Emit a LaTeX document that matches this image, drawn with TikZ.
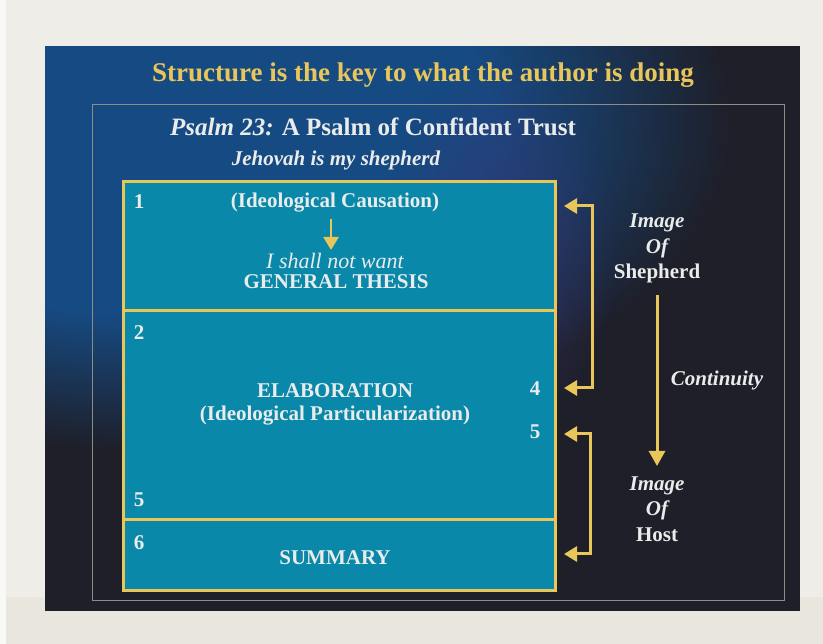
\documentclass[tikz,border=0pt]{standalone}
\usepackage{fontspec}
\setmainfont{Liberation Serif}
\usetikzlibrary{arrows.meta,fadings}
\definecolor{pagebg}{HTML}{EEEDE8}
\definecolor{pagelow}{HTML}{E9E7DD}
\definecolor{pageedge}{HTML}{F8F8F6}
\definecolor{slidedark}{HTML}{1E1F29}
\definecolor{slideblue}{HTML}{164A82}
\definecolor{glowcol}{HTML}{3A3474}
\definecolor{gold}{HTML}{E8C65A}
\definecolor{tealbox}{HTML}{0A88AA}
\definecolor{txt}{HTML}{E9ECEA}
\definecolor{frameline}{HTML}{8C8E86}
\pgfdeclareradialshading{bgrad}{\pgfpoint{0bp}{0bp}}{color(0bp)=(slideblue); color(13bp)=(slideblue); color(22bp)=(slidedark); color(50bp)=(slidedark)}
\tikzfading[name=glowfade, inner color=transparent!30, outer color=transparent!100]
\begin{document}
\begin{tikzpicture}[x=1pt,y=-1pt,
  secbox/.style={draw=gold, line width=3pt, fill=tealbox, inner sep=0pt},
  boxtext/.style={text=txt, font=\bfseries\fontsize{21}{24}\selectfont, inner sep=0pt},
  numtext/.style={text=txt, font=\bfseries\fontsize{21}{24}\selectfont, inner sep=0pt},
  sidetext/.style={text=txt, font=\bfseries\fontsize{21}{24}\selectfont, inner sep=0pt},
  sideital/.style={text=txt, font=\bfseries\itshape\fontsize{21}{24}\selectfont, inner sep=0pt},
  goldarrow/.style={draw=gold, line width=3pt},
  bracket/.style={draw=gold, line width=3pt, line join=miter, {Triangle[length=13pt,width=15pt]}-{Triangle[length=13pt,width=15pt]}}
]
\useasboundingbox (0,0) rectangle (823,644);
% slide background
\begin{scope}
  \clip (45,46) rectangle (800,611);
  \fill[slidedark] (40,40) rectangle (805,615);
  \shade[shading=bgrad] (-510,-255) rectangle (810,495);
  \fill[glowcol, path fading=glowfade] (500,250) ellipse (120 and 190);
\end{scope}
% page around the slide
\fill[pagebg] (0,0) rectangle (823,46);
\fill[pagebg] (0,46) rectangle (45,597);
\fill[pagebg] (800,46) rectangle (823,597);
\fill[pagelow] (0,597) rectangle (45,644);
\fill[pagelow] (800,597) rectangle (823,644);
\fill[pagelow] (45,611) rectangle (800,644);
\fill[pageedge] (0,0) rectangle (6,644);
\draw[frameline, line width=0.8pt] (92,104) rectangle (784,600);
% titles
\node[text=gold, font=\bfseries\fontsize{27}{32}\selectfont, inner sep=0pt] (title) at (423,75) {Structure is the key to what the author is doing};
\node[text=txt, font=\bfseries\fontsize{25}{30}\selectfont, inner sep=0pt] (psalm) at (373,127) {\textit{Psalm 23:} A Psalm of Confident Trust};
\node[sideital] (jeh) at (336,160) {Jehovah is my shepherd};
% boxes
\node[secbox, minimum width=432pt, minimum height=129pt] (b1) at (339,246.5) {};
\node[secbox, minimum width=432pt, minimum height=209pt] (b2) at (339,415.5) {};
\node[secbox, minimum width=432pt, minimum height=70pt] (b3) at (339,555) {};
% box 1
\node[numtext] (n1) at (139,202) {1};
\node[boxtext] (cause) at (335,203) {(Ideological Causation)};
\node[text=txt, font=\itshape\fontsize{22}{24}\selectfont, inner sep=0pt] (want) at (335,261) {I shall not want};
\node[boxtext] (thesis) at (336,282) {GENERAL THESIS};
\coordinate (sa) at (331,219);
\coordinate (sb) at (331,250);
\draw[draw=gold, line width=2.5pt, -{Triangle[length=13pt,width=15pt]}] (sa) -- (sb);
% box 2
\node[numtext] (n2) at (139,333) {2};
\node[boxtext] (elab) at (335,391) {ELABORATION};
\node[boxtext] (part) at (335,416) {(Ideological Particularization)};
\node[numtext] (n4) at (535,389) {4};
\node[numtext] (n5a) at (535,432) {5};
\node[numtext] (n5b) at (139,500) {5};
% box 3
\node[numtext] (n6) at (139,543) {6};
\node[boxtext] (summ) at (335,558) {SUMMARY};
% brackets
\coordinate (u1) at (564,206);
\coordinate (u2) at (592,206);
\coordinate (u3) at (592,388);
\coordinate (u4) at (564,388);
\draw[bracket] (u1) -- (u2) -- (u3) -- (u4);
\coordinate (l1) at (564,434);
\coordinate (l2) at (590,434);
\coordinate (l3) at (590,554);
\coordinate (l4) at (564,554);
\draw[bracket] (l1) -- (l2) -- (l3) -- (l4);
% side labels
\node[sideital] (im1) at (657,223) {Image};
\node[sideital] (of1) at (657,248) {Of};
\node[sidetext] (shep) at (657,273) {Shepherd};
\node[sideital] (cont) at (717,380) {Continuity};
\node[sideital] (im2) at (657,486) {Image};
\node[sideital] (of2) at (657,510) {Of};
\node[sidetext] (host) at (657,535) {Host};
\coordinate (va) at (657,295);
\coordinate (vb) at (657,466);
\draw[goldarrow, -{Triangle[length=15pt,width=16pt]}] (va) -- (vb);
\end{tikzpicture}
\end{document}
